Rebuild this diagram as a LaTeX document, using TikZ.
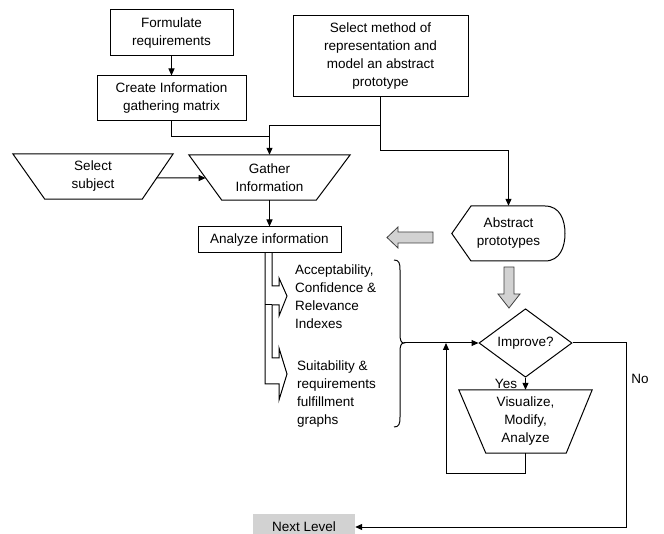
\documentclass[tikz,border=0pt]{standalone}
\usepackage{fontspec}
\setmainfont{Liberation Sans}
\usetikzlibrary{arrows.meta,shapes.geometric,calc}
\begin{document}
\begin{tikzpicture}[x=1pt,y=-1pt,
  every node/.style={font=\fontsize{13.5}{18}\selectfont, inner sep=0pt, align=center},
  ln/.style={line width=1pt},
  box/.style={draw, ln},
  arr/.style={ln, -{Triangle[length=7pt,width=6pt]}},
  blk/.style={draw=black!75, fill=gray!35, line width=0.8pt},
]
\clip (0,0) rectangle (664,534);
\fill[white] (0,0) rectangle (664,534);

% boxes
\node[box, minimum width=123, minimum height=46] (form) at (171.5,33) {Formulate\\requirements};
\node[box, minimum width=149, minimum height=45] (create) at (171.5,98.5) {Create Information\\gathering matrix};
\node[box, minimum width=175, minimum height=81] (method) at (380.5,56.5) {Select method of\\representation and\\model an abstract\\prototype};

% trapezia
\node[minimum width=160, minimum height=45] (sel) at (93,176.5) {Select\\subject};
\draw[ln] (sel.north west) -- (sel.north east) -- ([xshift=-31]sel.south east) -- ([xshift=32]sel.south west) -- cycle;
\node[minimum width=161, minimum height=45] (gath) at (269.5,177.5) {Gather\\Information};
\draw[ln] (gath.north west) -- (gath.north east) -- ([xshift=-34]gath.south east) -- ([xshift=33]gath.south west) -- cycle;

\node[box, minimum width=143, minimum height=26] (anal) at (269.5,240) {Analyze information};

% abstract prototypes
\node[minimum width=113, minimum height=55] (abs) at (508.5,233.5) {Abstract\\prototypes};
\draw[ln] (abs.west) -- (471,206) -- (545,206) .. controls (560,206) and (565,220) .. (565,233.5) .. controls (565,247) and (560,261) .. (545,261) -- (471,261) -- cycle;

% gray block arrows
\draw[blk] (433,232) -- (398,232) -- (398,227) -- (387,237.5) -- (398,248) -- (398,243) -- (433,243) -- cycle;
\draw[blk] (504,267) -- (514,267) -- (514,294) -- (520,294) -- (509,308) -- (498,294) -- (504,294) -- cycle;

% decision and loop
\node[draw, ln, diamond, minimum width=93, minimum height=55] (imp) at (525.5,343) {Improve?};
\node[minimum width=133, minimum height=63] (vis) at (525.5,421.5) {Visualize,\\Modify,\\Analyze};
\draw[ln] (vis.north west) -- (vis.north east) -- ([xshift=-26]vis.south east) -- ([xshift=27]vis.south west) -- cycle;

\node[fill=gray!35, minimum width=102, minimum height=26] (next) at (304,527) {Next Level};

% bent block arrows
\draw[ln] (265,253) -- (265,384) -- (279,384) -- (279,400) -- (287,374) -- (279,348) -- (279,358) -- (272,358) -- (272,305) -- (279,305) -- (279,316) -- (287,296) -- (279,278) -- (279,286) -- (272,286) -- (272,253);
\draw[ln] (265,305) -- (272,305);

\node[anchor=west, align=left] (t1) at (295,297) {Acceptability,\\Confidence \&\\Relevance\\Indexes};
\node[anchor=west, align=left] (t2) at (297,394) {Suitability \&\\requirements\\fulfillment\\graphs};

% brace
\draw[ln] (394,260) .. controls (399,260) and (400,263) .. (400,270) -- (400,334) .. controls (400,340) and (401,343) .. (404,343) .. controls (401,343) and (400,346) .. (400,352) -- (400,417) .. controls (400,424) and (399,427) .. (394,427);
\coordinate (btip) at (404,343);

% connectors
\draw[arr] (form.south) -- (create.north);
\draw[ln] (create.south) |- ($(gath.north)+(0,-18)$);
\draw[arr] (method.south) |- ($(gath.north)+(0,-29)$) -- (gath.north);
\draw[arr] (method.south) |- ($(abs.north)+(0,-55)$) -- (abs.north);
\coordinate (selR) at ($(sel.north east)!0.533!([xshift=-31]sel.south east)$);
\coordinate (gatL) at ($(gath.north west)!0.511!([xshift=33]gath.south west)$);
\draw[arr] (selR) -- (gatL);
\draw[arr] (gath.south) -- (anal.north);
\draw[arr] (btip) -- (imp.west);
\coordinate (loopin) at (446,343);
\draw[arr] (vis.south) -- ++(0,20) -| (loopin);
\draw[arr] (imp.south) -- (vis.north) node[midway, left, xshift=-8pt] (yes) {Yes};
\draw[arr] (imp.east) -- (626,343) |- (next.east);
\node (no) at (640,379) {No};
\end{tikzpicture}
\end{document}
